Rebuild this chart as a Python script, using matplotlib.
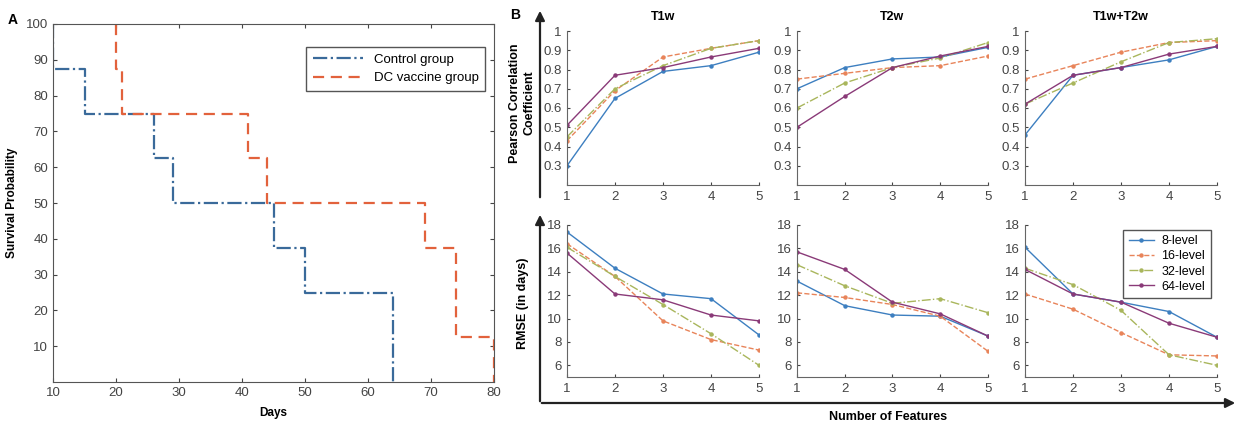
import matplotlib.pyplot as plt
from matplotlib.patches import FancyArrowPatch

plt.rcParams['font.family'] = ['Liberation Sans', 'DejaVu Sans']

# Kaplan-Meier style survival steps (day, survival %)
control_days = [10, 10, 15, 15, 26, 26, 29, 29, 45, 45, 50, 50, 64, 64]
control_surv = [100, 87.5, 87.5, 75, 75, 62.5, 62.5, 50, 50, 37.5, 37.5, 25, 25, 0]
dc_days = [20, 20, 21, 21, 41, 41, 44, 44, 69, 69, 74, 74, 80, 80]
dc_surv = [100, 87.5, 87.5, 75, 75, 62.5, 62.5, 50, 50, 37.5, 37.5, 12.5, 12.5, 0]

n_features = [1, 2, 3, 4, 5]
levels = ['8-level', '16-level', '32-level', '64-level']
groups = ['T1w', 'T2w', 'T1w+T2w']

pearson = {
    'T1w': [[0.30, 0.65, 0.79, 0.82, 0.89],
            [0.43, 0.69, 0.865, 0.91, 0.95],
            [0.45, 0.70, 0.82, 0.91, 0.95],
            [0.51, 0.77, 0.81, 0.865, 0.91]],
    'T2w': [[0.70, 0.81, 0.855, 0.865, 0.915],
            [0.75, 0.78, 0.81, 0.82, 0.87],
            [0.60, 0.73, 0.81, 0.86, 0.94],
            [0.50, 0.66, 0.81, 0.87, 0.92]],
    'T1w+T2w': [[0.46, 0.77, 0.81, 0.85, 0.92],
                [0.75, 0.82, 0.89, 0.94, 0.95],
                [0.62, 0.73, 0.84, 0.94, 0.96],
                [0.62, 0.77, 0.81, 0.88, 0.92]],
}
rmse = {
    'T1w': [[17.4, 14.3, 12.1, 11.7, 8.6],
            [16.4, 13.6, 9.8, 8.2, 7.3],
            [16.1, 13.6, 11.2, 8.7, 6.0],
            [15.6, 12.1, 11.6, 10.3, 9.8]],
    'T2w': [[13.2, 11.1, 10.3, 10.2, 8.5],
            [12.2, 11.8, 11.2, 10.2, 7.2],
            [14.6, 12.8, 11.3, 11.7, 10.5],
            [15.7, 14.2, 11.4, 10.4, 8.5]],
    'T1w+T2w': [[16.1, 12.1, 11.4, 10.6, 8.4],
                [12.1, 10.8, 8.8, 6.9, 6.8],
                [14.3, 12.9, 10.7, 6.9, 6.0],
                [14.2, 12.1, 11.4, 9.6, 8.4]],
}

W, H = 1244, 430
fig = plt.figure(figsize=(W / 100, H / 100), dpi=100)


def px_axes(left, top, right, bottom):
    return fig.add_axes([left / W, 1 - bottom / H, (right - left) / W, (bottom - top) / H])


# ---- panel A: survival curves ----
axA = px_axes(53, 24, 494, 382)
axA.plot(control_days, control_surv, color='#3a6a9a', ls='-.', lw=1.6, label='Control group')
axA.plot(dc_days, dc_surv, color='#e2623c', ls=(0, (5, 3)), lw=1.6, label='DC vaccine group')
axA.set_xlim(10, 80)
axA.set_ylim(0, 100)
axA.set_xticks(range(10, 81, 10))
axA.set_yticks(range(10, 101, 10))
axA.tick_params(direction='in', top=True, right=True, labelsize=9.5, length=3, colors='#444444')
for s in axA.spines.values():
    s.set_color('#555555')
    s.set_linewidth(0.8)
axA.set_xlabel('Days', fontsize=8.5, fontweight='bold', labelpad=6)
axA.set_ylabel('Survival Probability', fontsize=8.5, fontweight='bold', labelpad=6)
axA.legend(loc='upper right', bbox_to_anchor=(0.995, 0.955), fontsize=9.5, handlelength=3.8,
           fancybox=False, edgecolor='#555555', framealpha=1, borderpad=0.5)
fig.text(8 / W, 1 - 20 / H, 'A', fontsize=10, fontweight='bold', va='center')

# ---- panel B: texture feature comparison ----
colors = ['#3d7fc0', '#e8845a', '#a9b65c', '#8a3a78']
styles = ['-', '--', '-.', '-']
col_x = [(567, 759), (797, 988), (1025, 1217)]

for j, g in enumerate(groups):
    x0, x1 = col_x[j]
    top_ax = px_axes(x0, 31, x1, 185)
    bot_ax = px_axes(x0, 225, x1, 377)
    for k in range(4):
        top_ax.plot(n_features, pearson[g][k], color=colors[k], ls=styles[k], lw=1.0,
                    marker='o', ms=2.2, label=levels[k])
        bot_ax.plot(n_features, rmse[g][k], color=colors[k], ls=styles[k], lw=1.0,
                    marker='o', ms=2.2, label=levels[k])
    top_ax.set_ylim(0.2, 1.0)
    top_ax.set_yticks([0.3, 0.4, 0.5, 0.6, 0.7, 0.8, 0.9, 1])
    top_ax.set_yticklabels(['0.3', '0.4', '0.5', '0.6', '0.7', '0.8', '0.9', '1'])
    bot_ax.set_ylim(5, 18)
    bot_ax.set_yticks([6, 8, 10, 12, 14, 16, 18])
    for ax in (top_ax, bot_ax):
        ax.set_xlim(1, 5)
        ax.set_xticks(n_features)
        ax.spines['top'].set_visible(False)
        ax.spines['right'].set_visible(False)
        for s in ('left', 'bottom'):
            ax.spines[s].set_color('#666666')
            ax.spines[s].set_linewidth(0.8)
        ax.tick_params(direction='in', labelsize=9.5, length=2.5, colors='#444444', pad=4)
    top_ax.set_title(g, fontsize=9, fontweight='bold', pad=8)
    if j == 2:
        bot_ax.legend(loc='upper right', bbox_to_anchor=(1.0, 1.01), fontsize=9,
                      handlelength=2.0, handletextpad=0.6, fancybox=False,
                      edgecolor='#555555', framealpha=1, borderpad=0.45, labelspacing=0.25)

# big axis arrows framing panel B
def fig_arrow(xa, ya, xb, yb):
    fig.add_artist(FancyArrowPatch((xa / W, 1 - ya / H), (xb / W, 1 - yb / H),
                                   transform=fig.transFigure, arrowstyle='-|>',
                                   mutation_scale=14, color='#222222', lw=1.6))

fig_arrow(540, 200, 540, 8)
fig_arrow(540, 404, 540, 212)
fig_arrow(539, 403, 1238, 403)

fig.text(510 / W, 1 - 15 / H, 'B', fontsize=10, fontweight='bold', va='center')
fig.text(522 / W, 1 - 103 / H, 'Pearson Correlation\nCoefficient', fontsize=9, fontweight='bold',
         rotation=90, ha='center', va='center', linespacing=1.3)
fig.text(523 / W, 1 - 303 / H, 'RMSE (in days)', fontsize=9, fontweight='bold',
         rotation=90, ha='center', va='center')
fig.text(888 / W, 1 - 417 / H, 'Number of Features', fontsize=9, fontweight='bold',
         ha='center', va='center')

fig.savefig('out.png', dpi=100)
